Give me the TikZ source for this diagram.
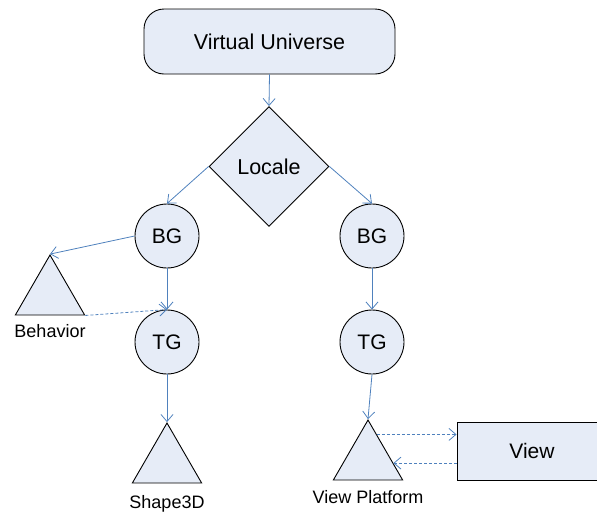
\documentclass[tikz,border=0pt]{standalone}
\usepackage{fontspec}
\setmainfont{Liberation Sans}
\usetikzlibrary{shapes.geometric,arrows.meta,calc}
\definecolor{boxfill}{HTML}{E6ECF7}
\definecolor{linkblue}{HTML}{4F81BD}
\begin{document}
\begin{tikzpicture}[x=1pt,y=-1pt,
  shapebox/.style={draw=black,line width=0.9pt,fill=boxfill,inner sep=0pt},
  circ/.style={shapebox,circle,minimum size=64pt,font=\fontsize{21}{25}\selectfont},
  tri/.style={shapebox,regular polygon,regular polygon sides=3,minimum size=80pt},
  lbl/.style={font=\fontsize{18}{21}\selectfont,inner sep=0pt},
  link/.style={draw=linkblue,line width=0.8pt,-{Straight Barb[length=7pt,width=12pt]}},
  dlink/.style={link,dash pattern=on 3pt off 2pt}]
\useasboundingbox (0,0) rectangle (597,512);
\node[shapebox,rounded corners=20pt,minimum width=251pt,minimum height=65pt,font=\fontsize{21.5}{25}\selectfont] (VU) at (269.5,41.5) {Virtual Universe};
\node[shapebox,diamond,minimum width=120pt,minimum height=120pt,font=\fontsize{21.5}{25}\selectfont] (L) at (269,166.5) {Locale};
\node[circ] (BGL) at (167,236) {BG};
\node[circ] (BGR) at (372,236) {BG};
\node[circ] (TGL) at (167,342) {TG};
\node[circ] (TGR) at (372,342) {TG};
\node[tri] (BH) at (50,295) {};
\node[tri] (S3) at (167,463) {};
\node[tri] (VP) at (368,460) {};
\node[shapebox,minimum width=150pt,minimum height=58pt,font=\fontsize{21}{25}\selectfont] (V) at (532,451) {View};
\node[lbl] (BHl) at (50,331) {Behavior};
\node[lbl] (S3l) at (167,504) {Shape3D};
\node[lbl] (VPl) at (368,497) {View Platform};
\coordinate (vpa) at ($(VP.corner 1)!0.25!(VP.corner 3)$);
\coordinate (vpb) at ($(VP.corner 1)!0.717!(VP.corner 3)$);
\draw[link] (VU.south) -- (L.north);
\draw[link] (L.west) -- (BGL.north);
\draw[link] (L.east) -- (BGR.north);
\draw[link] (BGL.west) -- (BH.corner 1);
\draw[link] (BGL.south) -- (TGL.north);
\draw[dlink] (BH.corner 3) -- (TGL.north);
\draw[link] (BGR.south) -- (TGR.north);
\draw[link] (TGL.south) -- (S3.corner 1);
\draw[link] (TGR.south) -- (VP.corner 1);
\draw[dlink] (vpa) -- (vpa -| V.west);
\draw[dlink] (vpb -| V.west) -- (vpb);
\end{tikzpicture}
\end{document}
